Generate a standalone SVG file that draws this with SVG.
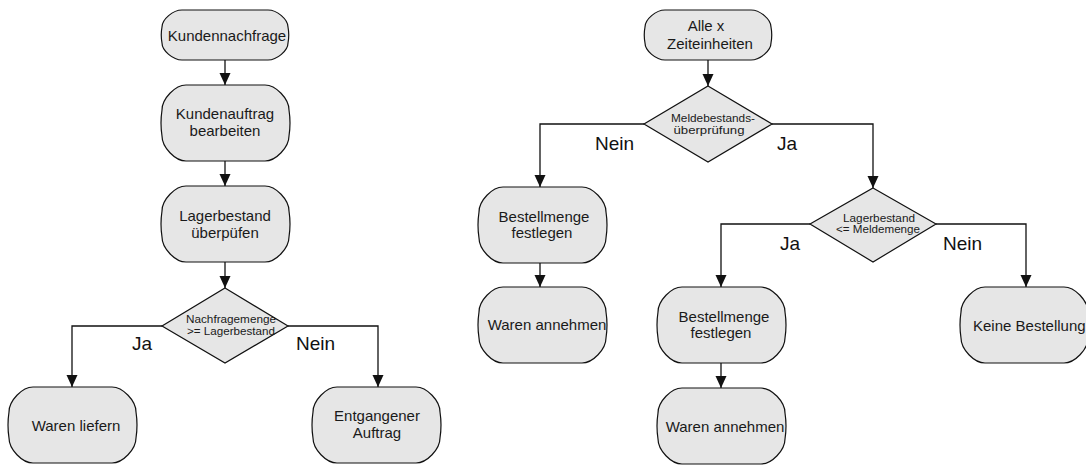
<svg xmlns="http://www.w3.org/2000/svg" xmlns:xlink="http://www.w3.org/1999/xlink" width="1086" height="465" viewBox="0 0 1086 465">
  <style>
    .box { fill: #e6e6e6; stroke: #111; stroke-width: 1.2; }
    .dec { fill: #e6e6e6; stroke: #111; stroke-width: 1.2; }
    .lbl { font-family: "Liberation Sans", Arial, sans-serif; font-size: 15px; fill: #1a1a1a; text-anchor: middle; }
    .cond { font-family: "Liberation Sans", Arial, sans-serif; font-size: 11px; fill: #1a1a1a; text-anchor: middle; }
    .yn { font-family: "Liberation Sans", Arial, sans-serif; font-size: 19px; fill: #111; }
    .edge { fill: none; stroke: #111; stroke-width: 1.3; marker-end: url(#head); }
  </style>
  <defs>
    <marker id="head" markerUnits="userSpaceOnUse" markerWidth="12" markerHeight="12" viewBox="0 0 12 12" refX="12" refY="6" orient="auto">
      <path d="M0,0.5 L12,6 L0,11.5 Z" fill="#111"/>
    </marker>
    <!-- process shapes with softly bevelled corners: 127x76 and 126x50 -->
    <path id="big" class="box" d="M24,0 h79 c10.8,0 24,13.75 24,25 q2,13 0,26 c0,11.25 -13.2,25 -24,25 h-79 c-10.8,0 -24,-13.75 -24,-25 q-2,-13 0,-26 c0,-11.25 13.2,-25 24,-25 z"/>
    <path id="small" class="box" d="M20,0 h86 c9,0 20,9.35 20,17 q1.5,8 0,16 c0,7.65 -11,17 -20,17 h-86 c-9,0 -20,-9.35 -20,-17 q-1.5,-8 0,-16 c0,-7.65 11,-17 20,-17 z"/>
  </defs>

  <!-- connectors -->
  <g id="connectors">
    <path class="edge" d="M225,60 V85"/>
    <path class="edge" d="M225,160 V186"/>
    <path class="edge" d="M225,262 V288"/>
    <path class="edge" d="M162,326 H72 V387"/>
    <path class="edge" d="M288,326 H378 V387"/>
    <path class="edge" d="M708,60 V86"/>
    <path class="edge" d="M644,124 H540 V187"/>
    <path class="edge" d="M772,124 H873 V188"/>
    <path class="edge" d="M540,263 V287"/>
    <path class="edge" d="M810,224 H721 V287"/>
    <path class="edge" d="M936,224 H1026 V287"/>
    <path class="edge" d="M721,363 V388"/>
  </g>

  <!-- branch labels -->
  <g id="branch-labels">
    <text class="yn" x="132" y="350">Ja</text>
    <text class="yn" x="296" y="350">Nein</text>
    <text class="yn" x="595" y="150">Nein</text>
    <text class="yn" x="777" y="150">Ja</text>
    <text class="yn" x="780" y="250">Ja</text>
    <text class="yn" x="943" y="250">Nein</text>
  </g>

  <!-- left flow: customer order -->
  <g id="kundennachfrage">
    <use xlink:href="#small" href="#small" x="162" y="10"/>
    <text class="lbl" x="227" y="41">Kundennachfrage</text>
  </g>
  <g id="kundenauftrag">
    <use xlink:href="#big" href="#big" x="162" y="85"/>
    <text class="lbl" x="225" y="119">Kundenauftrag</text>
    <text class="lbl" x="225" y="136">bearbeiten</text>
  </g>
  <g id="lagerbestand-pruefen">
    <use xlink:href="#big" href="#big" x="162" y="186"/>
    <text class="lbl" x="225" y="221">Lagerbestand</text>
    <text class="lbl" x="225" y="238">überpüfen</text>
  </g>
  <g id="entscheidung-nachfrage">
    <polygon class="dec" points="225,288 288,326 225,363 162,326"/>
    <text class="cond" x="231" y="323" textLength="90" lengthAdjust="spacingAndGlyphs">Nachfragemenge</text>
    <text class="cond" x="231" y="335" textLength="88" lengthAdjust="spacingAndGlyphs">&gt;= Lagerbestand</text>
  </g>
  <g id="waren-liefern">
    <use xlink:href="#big" href="#big" x="9" y="387"/>
    <text class="lbl" x="76" y="431">Waren liefern</text>
  </g>
  <g id="entgangener-auftrag">
    <use xlink:href="#big" href="#big" x="313" y="387"/>
    <text class="lbl" x="377" y="421">Entgangener</text>
    <text class="lbl" x="377" y="438">Auftrag</text>
  </g>

  <!-- right flow: periodic stock review -->
  <g id="zeiteinheiten">
    <use xlink:href="#small" href="#small" x="645" y="10"/>
    <text class="lbl" x="706" y="31">Alle x</text>
    <text class="lbl" x="710" y="49">Zeiteinheiten</text>
  </g>
  <g id="entscheidung-meldebestand">
    <polygon class="dec" points="708,86 772,124 708,162 644,124"/>
    <text class="cond" x="713" y="121.5" textLength="84" lengthAdjust="spacingAndGlyphs">Meldebestands-</text>
    <text class="cond" x="709" y="133.5" textLength="71" lengthAdjust="spacingAndGlyphs">überprüfung</text>
  </g>
  <g id="bestellmenge-1">
    <use xlink:href="#big" href="#big" x="479" y="187"/>
    <text class="lbl" x="544" y="222">Bestellmenge</text>
    <text class="lbl" x="542" y="238">festlegen</text>
  </g>
  <g id="waren-annehmen-1">
    <use xlink:href="#big" href="#big" x="479" y="287"/>
    <text class="lbl" x="547" y="330">Waren annehmen</text>
  </g>
  <g id="entscheidung-lagerbestand">
    <polygon class="dec" points="873,188 936,224 873,262 810,224"/>
    <text class="cond" x="879" y="222" textLength="72" lengthAdjust="spacingAndGlyphs">Lagerbestand</text>
    <text class="cond" x="878" y="233" textLength="84" lengthAdjust="spacingAndGlyphs">&lt;= Meldemenge</text>
  </g>
  <g id="bestellmenge-2">
    <use xlink:href="#big" href="#big" x="658" y="287"/>
    <text class="lbl" x="724" y="322">Bestellmenge</text>
    <text class="lbl" x="721" y="338">festlegen</text>
  </g>
  <g id="waren-annehmen-2">
    <use xlink:href="#big" href="#big" x="658" y="388"/>
    <text class="lbl" x="725" y="432">Waren annehmen</text>
  </g>
  <g id="keine-bestellung">
    <use xlink:href="#big" href="#big" x="961" y="287"/>
    <text class="lbl" x="973" y="331" style="text-anchor:start">Keine Bestellung</text>
  </g>
</svg>
